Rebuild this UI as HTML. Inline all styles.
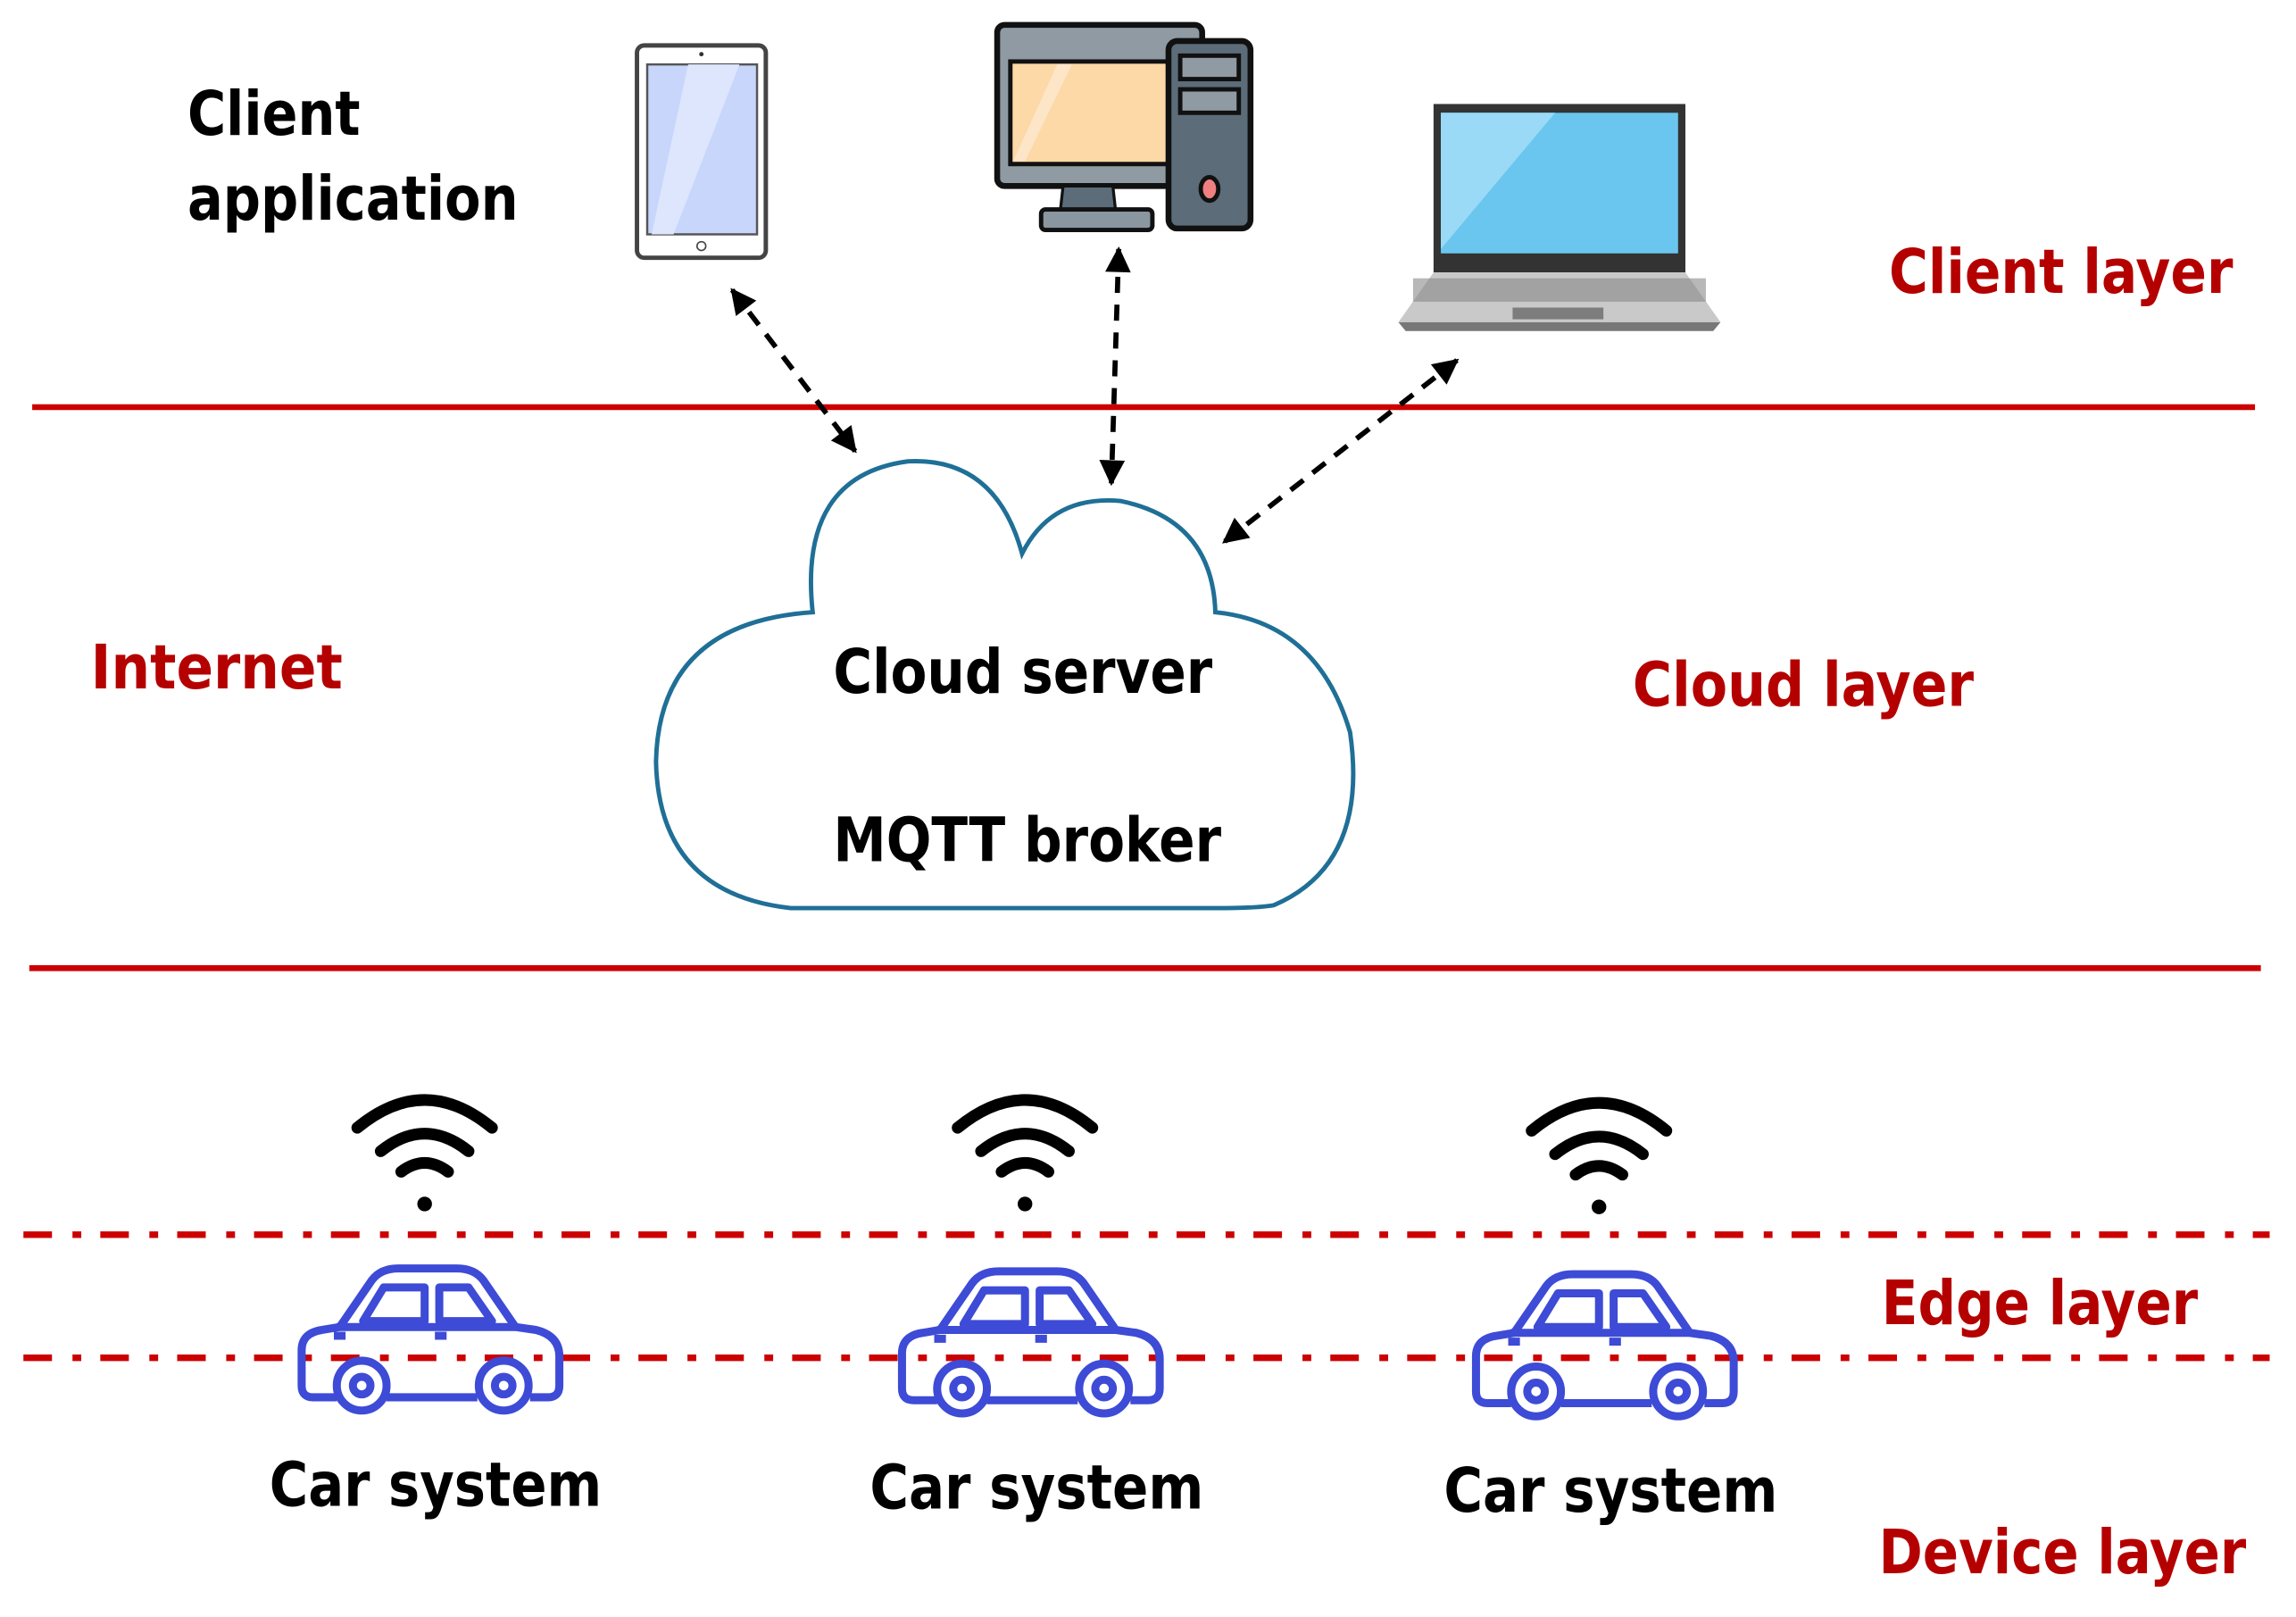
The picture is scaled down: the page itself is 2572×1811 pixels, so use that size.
<!DOCTYPE html>
<html><head><meta charset="utf-8"><style>
html,body{margin:0;padding:0;background:#fff;}
svg{display:block;}
text{font-family:"DejaVu Sans","Liberation Sans",sans-serif;font-weight:bold;}
</style></head><body>
<svg width="2572" height="1811" viewBox="0 0 1568 1104" preserveAspectRatio="none" xmlns="http://www.w3.org/2000/svg">
<defs>
<marker id="ah" viewBox="0 0 10 10" refX="9" refY="5" markerWidth="5.5" markerHeight="5" orient="auto-start-reverse" markerUnits="strokeWidth">
<path d="M0,0 L10,5 L0,10 z" fill="#000"/></marker>
<g id="wifi" fill="none" stroke="#000" stroke-width="8" stroke-linecap="round">
<path d="M-46,20 Q0,-18 46,20"/><path d="M-30,36 Q0,12 30,36"/><path d="M-16,50 Q0,38 16,50"/>
<circle cx="0" cy="72" r="5" fill="#000" stroke="none"/>
</g>
<g id="car" fill="none" stroke="#3d4bd6" stroke-width="5.5" stroke-linejoin="round">
<path d="M28,92 L12,92 Q4,92 4,84 L4,60 Q4,48 18,46 L30,44 L52,12 Q58,4 70,4 L110,4 Q122,4 128,12 L150,44 L164,46 Q180,50 180,64 L180,84 Q180,92 172,92 L160,92"/>
<path d="M62,92 L124,92"/>
<path d="M28,44 L150,44"/>
<path d="M46,40 L60,17 L88,17 L88,40 Z"/><path d="M98,17 L118,17 L134,40 L98,40 Z"/>
<circle cx="45" cy="84" r="17"/><circle cx="45" cy="84" r="6"/>
<circle cx="142" cy="84" r="17"/><circle cx="142" cy="84" r="6"/>
<path d="M26,50 L34,50 M95,50 L103,50"/>
</g>
</defs>

<line x1="22" y1="278" x2="1540" y2="278" stroke="#cc0000" stroke-width="4"/>
<line x1="20" y1="661" x2="1544" y2="661" stroke="#cc0000" stroke-width="4"/>
<line x1="16" y1="843" x2="1550" y2="843" stroke="#cc0000" stroke-width="4.5" stroke-dasharray="19.5 14 6 13"/>
<line x1="16" y1="927" x2="1550" y2="927" stroke="#cc0000" stroke-width="4.5" stroke-dasharray="19.5 14 6 13"/>

<rect x="435" y="31" width="88" height="145" rx="5" fill="#fff" stroke="#444" stroke-width="3"/>
<rect x="442" y="44" width="75" height="116" fill="#c8d6fb" stroke="#555" stroke-width="1.5"/>
<path d="M470,44 L505,44 L460,160 L445,160 Z" fill="#dde6fc"/>
<circle cx="479" cy="37" r="1.5" fill="#333"/><circle cx="479" cy="168" r="3" fill="none" stroke="#444"/>

<rect x="681" y="17" width="140" height="110" rx="5" fill="#8f9aa3" stroke="#111" stroke-width="4"/>
<rect x="690" y="42" width="112" height="70" fill="#fcd9a7" stroke="#111" stroke-width="3"/>
<path d="M722,44 L732,44 L700,110 L692,110 Z" fill="#fde6c7"/>
<path d="M726,127 L760,127 L762,145 L724,145 Z" fill="#5c6c78" stroke="#111" stroke-width="2"/>
<rect x="711" y="143" width="76" height="14" rx="3" fill="#8a96a0" stroke="#111" stroke-width="3"/>
<rect x="798" y="28" width="56" height="128" rx="6" fill="#5c6c78" stroke="#111" stroke-width="4"/>
<rect x="806" y="38" width="40" height="16" fill="#8f9aa3" stroke="#111" stroke-width="3"/>
<rect x="806" y="61" width="40" height="16" fill="#8f9aa3" stroke="#111" stroke-width="3"/>
<ellipse cx="826" cy="129" rx="6" ry="8" fill="#f08080" stroke="#111" stroke-width="3"/>

<rect x="979" y="71" width="172" height="115" fill="#333"/>
<rect x="984" y="77" width="162" height="96" fill="#6ac6ee"/>
<path d="M984,77 L1062,77 L984,170 Z" fill="#9adaf7"/>
<path d="M979,186 L1151,186 L1175,220 L955,220 Z" fill="#c9c9c9"/>
<rect x="965" y="190" width="200" height="16" fill="#888" opacity="0.6"/>
<rect x="1033" y="210" width="62" height="8" fill="#7d7d7d"/>
<path d="M955,220 L1175,220 L1170,226 L960,226 Z" fill="#777"/>

<g stroke="#000" stroke-width="3.5" stroke-dasharray="11 8" fill="none" marker-start="url(#ah)" marker-end="url(#ah)">
<line x1="500" y1="198" x2="584" y2="308"/>
<line x1="764" y1="170" x2="759" y2="330"/>
<line x1="995" y1="246" x2="836" y2="370"/>
</g>

<path d="M555,418 Q545,325 620,315 Q680,312 698,378 Q718,338 765,342 Q828,355 830,418 Q900,425 922,500 Q935,590 870,618 Q860,620 830,620 L540,620 Q450,610 448,520 Q450,425 555,418 Z" fill="#fff" stroke="#1f6f96" stroke-width="3"/>

<use href="#wifi" x="290" y="750"/>
<use href="#wifi" x="700" y="750"/>
<use href="#wifi" x="1092" y="752"/>
<use href="#car" x="202" y="862"/>
<use href="#car" x="612" y="864"/>
<use href="#car" x="1004" y="866"/>

<g font-size="42" fill="#000">
<text x="128" y="92" textLength="118" lengthAdjust="spacingAndGlyphs">Client</text>
<text x="128" y="150" textLength="226" lengthAdjust="spacingAndGlyphs">application</text>
<text x="569" y="473" textLength="259" lengthAdjust="spacingAndGlyphs">Cloud server</text>
<text x="569" y="588" textLength="265" lengthAdjust="spacingAndGlyphs">MQTT broker</text>
<text x="184" y="1028" textLength="227" lengthAdjust="spacingAndGlyphs">Car system</text>
<text x="594" y="1030" textLength="228" lengthAdjust="spacingAndGlyphs">Car system</text>
<text x="986" y="1032" textLength="228" lengthAdjust="spacingAndGlyphs">Car system</text>
</g>
<g font-size="42" fill="#b50000">
<text x="1290" y="200" textLength="235" lengthAdjust="spacingAndGlyphs">Client layer</text>
<text x="62" y="470" textLength="172" lengthAdjust="spacingAndGlyphs">Internet</text>
<text x="1115" y="482" textLength="233" lengthAdjust="spacingAndGlyphs">Cloud layer</text>
<text x="1285" y="904" textLength="216" lengthAdjust="spacingAndGlyphs">Edge layer</text>
<text x="1283" y="1074" textLength="251" lengthAdjust="spacingAndGlyphs">Device layer</text>
</g>
</svg>
</body></html>
